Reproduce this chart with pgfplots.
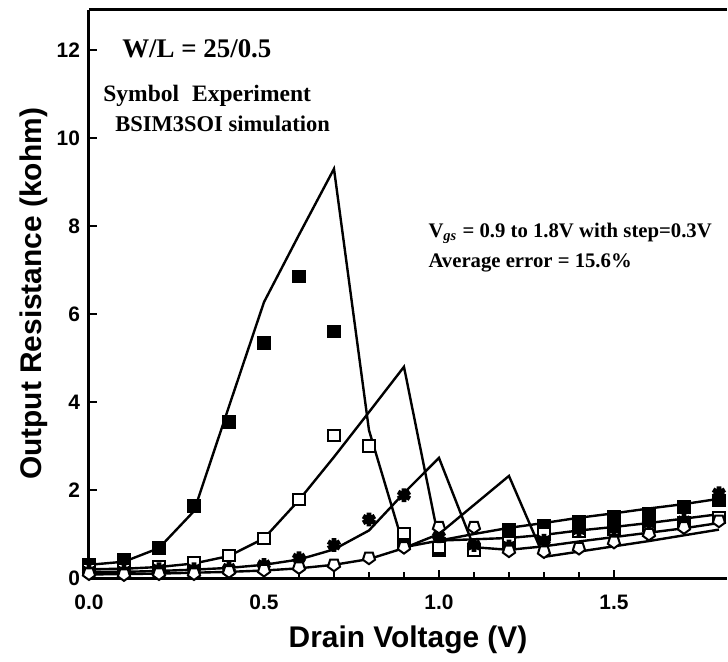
\documentclass[border=0pt]{standalone}
\usepackage{fontspec}
\setmainfont{Liberation Serif}
\setsansfont{Liberation Sans}
\usepackage{pgfplots}
\pgfplotsset{compat=1.18}
\usepackage{pgfplotstable}
\usetikzlibrary{plotmarks}

% Simulation (BSIM3SOI) lines
\pgfplotstableread{
x a b c d
0.0 0.30 0.20 0.14 0.08
0.1 0.37 0.21 0.14 0.09
0.2 0.68 0.25 0.16 0.10
0.3 1.52 0.33 0.19 0.12
0.4 3.90 0.50 0.23 0.14
0.5 6.27 0.90 0.30 0.17
0.6 7.80 1.77 0.42 0.22
0.7 9.30 2.75 0.65 0.30
0.8 3.36 3.77 1.08 0.43
0.9 0.70 4.80 1.93 0.68
1.0 0.85 0.85 2.73 1.00
1.1 1.00 0.88 0.70 1.66
1.2 1.14 0.91 0.64 2.32
1.3 1.25 0.98 0.72 0.48
1.4 1.37 1.08 0.83 0.60
1.5 1.47 1.16 0.93 0.72
1.6 1.58 1.25 1.03 0.84
1.7 1.68 1.35 1.13 0.97
1.8 1.80 1.45 1.25 1.10
}\simtable

% Experiment, filled squares
\pgfplotstableread{
x y
0.0 0.30
0.1 0.41
0.2 0.68
0.3 1.64
0.4 3.55
0.5 5.34
0.6 6.86
0.7 5.61
0.9 0.80
1.0 0.64
1.1 0.65
1.2 1.10
1.3 1.20
1.4 1.28
1.5 1.39
1.6 1.47
1.7 1.62
1.8 1.77
}\expA

% Experiment, open squares
\pgfplotstableread{
x y
0.0 0.20
0.1 0.20
0.2 0.26
0.3 0.35
0.4 0.52
0.5 0.90
0.6 1.78
0.7 3.23
0.8 3.00
0.9 1.02
1.0 0.70
1.1 0.62
1.2 0.80
1.3 1.00
1.4 1.05
1.5 1.10
1.6 1.20
1.7 1.25
1.8 1.38
}\expB

% Experiment, filled stars
\pgfplotstableread{
x y
0.0 0.15
0.1 0.15
0.2 0.20
0.3 0.20
0.4 0.22
0.5 0.30
0.6 0.45
0.7 0.75
0.8 1.33
0.9 1.88
1.0 0.95
1.1 0.75
1.2 0.72
1.3 0.85
1.4 1.10
1.5 1.12
1.6 1.25
1.7 1.30
1.8 1.93
}\expC

% Experiment, open pentagons
\pgfplotstableread{
x y
0.0 0.10
0.1 0.08
0.2 0.10
0.3 0.10
0.4 0.15
0.5 0.18
0.6 0.24
0.7 0.30
0.8 0.46
0.9 0.70
1.0 1.16
1.1 1.16
1.2 0.62
1.3 0.60
1.4 0.68
1.5 0.82
1.6 1.00
1.7 1.15
1.8 1.30
}\expD

\begin{document}
\begin{tikzpicture}
\begin{axis}[
  scale only axis, width=319bp, height=284bp,
  xmin=0, xmax=1.823, ymin=0, ymax=12.91,
  axis x line*=bottom, axis y line*=left,
  axis line style={line width=1.5bp, -},
  xtick={0,0.5,1,1.5}, minor x tick num=4,
  ytick={0,2,4,6,8,10,12},
  tick align=inside,
  major tick length=4bp, minor tick length=3bp,
  tick style={line width=1bp, black},
  /pgf/number format/assume math mode=true,
  ticklabel style={font=\sffamily\bfseries\fontsize{10.5}{12}\selectfont},
  x tick label style={/pgf/number format/.cd, fixed, fixed zerofill, precision=1, /tikz/.cd, yshift=-5bp},
  y tick label style={xshift=-1bp},
  xlabel={Drain Voltage (V)},
  ylabel={Output Resistance (kohm)},
  label style={font=\sffamily\bfseries\fontsize{15}{18}\selectfont},
  x label style={at={(axis description cs:0.5,-0.1232)}, anchor=base},
  y label style={at={(axis description cs:-0.0752,0.5)}, anchor=base},
  clip=false,
]
\addplot[black, line width=1.2bp, no markers] table[x=x, y=a] {\simtable};
\addplot[black, line width=1.2bp, no markers] table[x=x, y=b] {\simtable};
\addplot[black, line width=1.2bp, no markers] table[x=x, y=c] {\simtable};
\addplot[black, line width=1.2bp, no markers] table[x=x, y=d] {\simtable};

\addplot[only marks, mark=square*, mark size=3.1bp, mark options={fill=black, draw=black}] table {\expA};
\addplot[only marks, mark=square*, mark size=2.8bp, mark options={fill=white, draw=black, line width=1bp}] table {\expB};
\addplot[only marks, mark=asterisk, mark size=3.4bp, mark options={draw=black, line width=2.4bp}] table {\expC};
\addplot[only marks, mark=pentagon*, mark size=3.2bp, mark options={fill=white, draw=black, line width=1bp, rotate=180}] table {\expD};

\draw[line width=1.5bp] (rel axis cs:0,1) -- (rel axis cs:1,1);

\node[anchor=base west, font=\bfseries\fontsize{13.5}{16}\selectfont, inner sep=0pt] at (axis cs:0.094,11.84) {W/L = 25/0.5};
\node[anchor=base west, font=\bfseries\fontsize{11.8}{14}\selectfont, inner sep=0pt] at (axis cs:0.04,10.82) {Symbol\hspace{0.55em}Experiment};
\node[anchor=base west, font=\bfseries\fontsize{11.3}{14}\selectfont, inner sep=0pt] at (axis cs:0.074,10.14) {BSIM3SOI simulation};
\node[anchor=base west, font=\bfseries\fontsize{10.4}{12}\selectfont, inner sep=0pt] at (axis cs:0.969,7.73) {V\textsubscript{\textit{gs}} = 0.9 to 1.8V with step=0.3V};
\node[anchor=base west, font=\bfseries\fontsize{10.4}{12}\selectfont, inner sep=0pt] at (axis cs:0.969,7.05) {Average error = 15.6\%};

\coordinate (LL) at (rel axis cs:0,0);
\coordinate (UR) at (rel axis cs:1,1);
\end{axis}
\pgfresetboundingbox
\path ([shift={(-44.5bp,-42bp)}]LL) rectangle ([shift={(0.5bp,5bp)}]UR);
\end{tikzpicture}
\end{document}
